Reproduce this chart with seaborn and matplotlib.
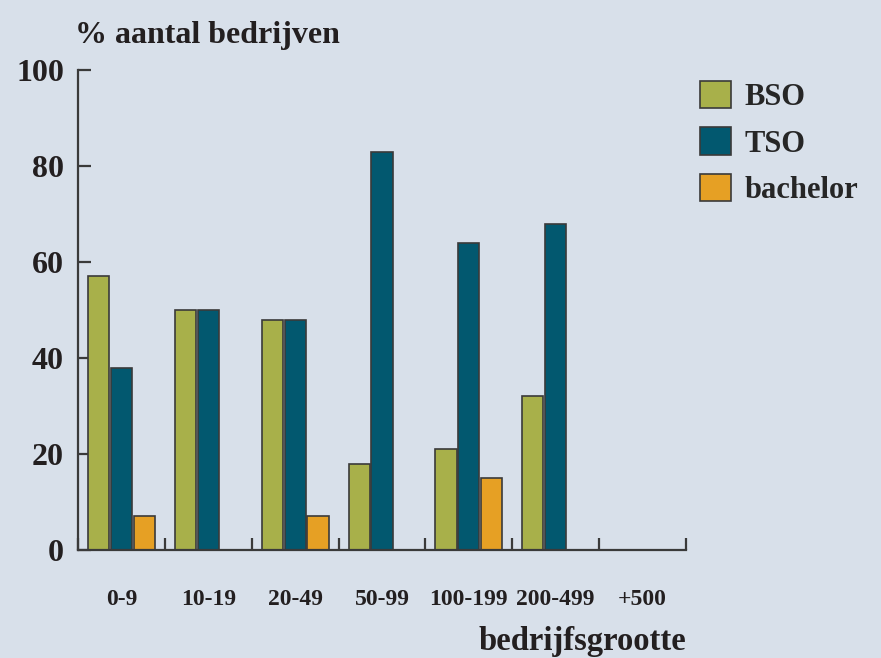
import matplotlib
matplotlib.use("Agg")
import matplotlib.pyplot as plt
import seaborn as sns
import pandas as pd
import numpy as np

# Data (None = no bar)
categories = ['0-9', '10-19', '20-49', '50-99', '100-199', '200-499', '+500']
bso = [57, 50, 48, 18, 21, 32, None]
tso = [38, 50, 48, 83, 64, 68, None]
bachelor = [7, None, 7, None, 15, None, None]
series = ['BSO', 'TSO', 'bachelor']
colors = ['#a8b04a', '#02586f', '#e6a024']

bg = '#d8e0ea'
ink = '#231f20'

sns.set_style("ticks")
plt.rcParams['font.family'] = ['Liberation Serif', 'DejaVu Serif']
plt.rcParams['font.weight'] = 'bold'

df = pd.DataFrame({
    'grootte': categories * 3,
    'opleiding': [s for s in series for _ in categories],
    'pct': [np.nan if v is None else v for v in bso + tso + bachelor],
})

fig = plt.figure(figsize=(8.81, 6.58), dpi=100, facecolor=bg)
ax = fig.add_axes([78 / 881, 1 - 550 / 658, (686 - 78) / 881, (550 - 70) / 658])
ax.set_facecolor(bg)

sns.barplot(data=df, x='grootte', y='pct', hue='opleiding',
            order=categories, hue_order=series, palette=colors,
            width=0.79, gap=0.08, edgecolor='#3a3a3a', linewidth=1.2,
            saturation=1, ax=ax)

handles, labels = ax.get_legend_handles_labels()
ax.get_legend().remove()
for h in handles:
    h.set_edgecolor('#3a3a3a')
    h.set_linewidth(1.2)
fig.legend(handles, labels, loc='upper left', bbox_to_anchor=(700 / 881, 1 - 81 / 658),
           frameon=False, fontsize=22, handlelength=1.0, handleheight=1.0,
           handletextpad=0.45, labelspacing=0.5, borderpad=0, borderaxespad=0)

ax.set_xlim(-0.5, len(categories) - 0.5)
ax.set_ylim(0, 100)
ax.set_yticks([0, 20, 40, 60, 80, 100])
ax.set_xlabel('')
ax.set_ylabel('')

for s in ['top', 'right']:
    ax.spines[s].set_visible(False)
for s in ['left', 'bottom']:
    ax.spines[s].set_color('#3a3a3a')
    ax.spines[s].set_linewidth(1.6)

ax.tick_params(axis='y', direction='in', length=9, width=1.6, color='#3a3a3a',
               labelsize=23, pad=10, labelcolor=ink)
ax.tick_params(axis='x', which='major', length=0, labelsize=17, pad=28, labelcolor=ink)
ax.set_xticks(np.arange(-0.5, len(categories), 1.0), minor=True)
ax.tick_params(axis='x', which='minor', direction='in', length=9, width=1.6, color='#3a3a3a')
for t in ax.get_xticklabels() + ax.get_yticklabels():
    t.set_fontweight('bold')

fig.text(75 / 881, 1 - 43 / 658, '% aantal bedrijven', fontsize=23, fontweight='bold',
         color=ink, ha='left', va='baseline')
fig.text(686 / 881, 1 - 650 / 658, 'bedrijfsgrootte', fontsize=23.5, fontweight='bold',
         color=ink, ha='right', va='baseline')

fig.savefig('out.png', dpi=100, facecolor=bg)
